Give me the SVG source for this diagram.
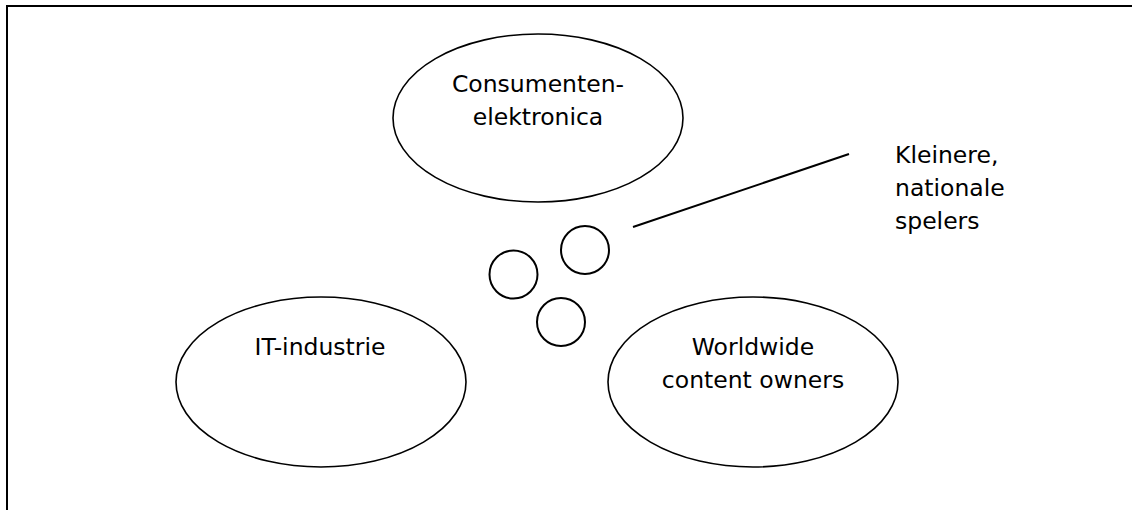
<svg xmlns="http://www.w3.org/2000/svg" width="1132" height="510" viewBox="0 0 1132 510">
<style>
.bg{fill:#fff}
.frame{stroke:#000;stroke-width:2;fill:none}
.big{fill:#fff;stroke:#000;stroke-width:1.6}
.small{fill:#fff;stroke:#000;stroke-width:2}
.lbl{font-family:"DejaVu Sans","Verdana",sans-serif;font-size:23.5px;fill:#000;text-anchor:middle}
.lbl-l{font-family:"DejaVu Sans","Verdana",sans-serif;font-size:23.5px;fill:#000}
.conn{stroke:#000;stroke-width:2;fill:none}
</style>
<rect class="bg" x="0" y="0" width="1132" height="510"/>
<path class="frame" d="M7,510 V6 H1132"/>
<g id="consumentenelektronica">
<ellipse class="big" cx="538" cy="118" rx="145" ry="84"/>
<text class="lbl" x="538" y="92">Consumenten-</text>
<text class="lbl" x="538" y="125">elektronica</text>
</g>
<g id="it-industrie">
<ellipse class="big" cx="321" cy="382" rx="145" ry="85"/>
<text class="lbl" x="320" y="355">IT-industrie</text>
</g>
<g id="worldwide-content-owners">
<ellipse class="big" cx="753" cy="382" rx="145" ry="85"/>
<text class="lbl" x="753" y="355">Worldwide</text>
<text class="lbl" x="753" y="388">content owners</text>
</g>
<g id="kleinere-spelers">
<circle class="small" cx="513.5" cy="274.5" r="24"/>
<circle class="small" cx="585" cy="250" r="24"/>
<circle class="small" cx="561" cy="322" r="24"/>
</g>
<g id="kleinere-label">
<text class="lbl-l" x="895" y="163">Kleinere,</text>
<text class="lbl-l" x="895" y="196">nationale</text>
<text class="lbl-l" x="895" y="229">spelers</text>
</g>
<g id="connectors">
<line class="conn" x1="633" y1="227" x2="849" y2="154"/>
</g>
</svg>
